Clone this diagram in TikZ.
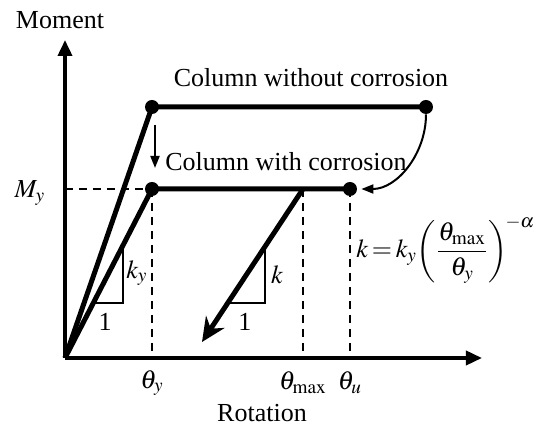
\documentclass[tikz,border=0pt]{standalone}
\usepackage{amsmath}
\usepackage{mathptmx}
\usepackage{fontspec}
\setmainfont{Liberation Serif}
\usetikzlibrary{arrows.meta,positioning}

\begin{document}
\begin{tikzpicture}[x=0.5pt,y=-0.5pt,font=\fontsize{13}{15}\selectfont,inner sep=1pt,
  axis/.style={line width=1.8pt,-{Triangle[length=8pt,width=7pt]}},
  curve/.style={line width=2.5pt,line join=round},
  guide/.style={line width=0.9pt,dash pattern=on 4pt off 3pt},
  slope/.style={line width=0.75pt},
  pointer/.style={line width=1pt,-{Triangle[length=6pt,width=4.5pt]}},
  dot/.style={circle,fill,inner sep=0pt,minimum size=7pt}]
  \useasboundingbox (0,0) rectangle (538,427);
  % axes
  \coordinate (O) at (65,358);
  \coordinate (ytop) at (65,40);
  \coordinate (xend) at (482,358);
  \draw[axis] (O) -- (ytop);
  \draw[axis] (O) -- (xend);
  \node (mom) at (60,20) {Moment};
  \node (rot) at (262,413) {Rotation};
  % backbone curves
  \node[dot] (Yu) at (152,107) {};
  \node[dot] (Uu) at (426,107) {};
  \node[dot] (Yc) at (152,189) {};
  \node[dot] (Uc) at (350,189) {};
  \coordinate (Mx) at (303,189);
  \coordinate (R) at (202,342);
  \draw[guide] (O |- Yc) -- (Yc.center);
  \draw[guide] (Yc.center) -- (Yc.center |- O);
  \draw[guide] (Mx) -- (Mx |- O);
  \draw[guide] (Uc.center) -- (Uc.center |- O);
  \draw[curve] (O) -- (Yu.center) -- (Uu.center);
  \draw[curve] (O) -- (Yc.center) -- (Uc.center);
  \draw[curve,-{Stealth[length=12pt,width=11pt,inset=4pt]}] (Mx) -- (R);
  \node (wo) at (311,78) {Column without corrosion};
  \node (wc) at (286,162) {Column with corrosion};
  % pointers
  \coordinate (d1) at (155,125);
  \coordinate (d2) at (155,168);
  \draw[pointer] (d1) -- (d2);
  \draw[pointer,shorten >=2pt] (Uu) to[out=-90,in=0] (Uc);
  % slope triangles
  \draw[slope] (95,303) -- (123,303) -- (123,246);
  \draw[slope] (229,303) -- (265,303) -- (265,248);
  \node (ky) at (137,273) {$k_y$};
  \node (one1) at (105,322) {1};
  \node (k) at (277,275) {$k$};
  \node (one2) at (245,322) {1};
  % axis labels
  \node (My) at (30,193) {$M_y$};
  \node (ty) at (152,383) {$\theta_y$};
  \node (tm) at (303,383) {$\theta_{\max}$};
  \node (tu) at (350,383) {$\theta_u$};
  \node[right,inner sep=0pt] (law) at (356,250) {$\thickmuskip=2.5mu k=k_y\!\left(\dfrac{\theta_{\max}}{\theta_y}\right)^{\!-\alpha}$};
\end{tikzpicture}
\end{document}
